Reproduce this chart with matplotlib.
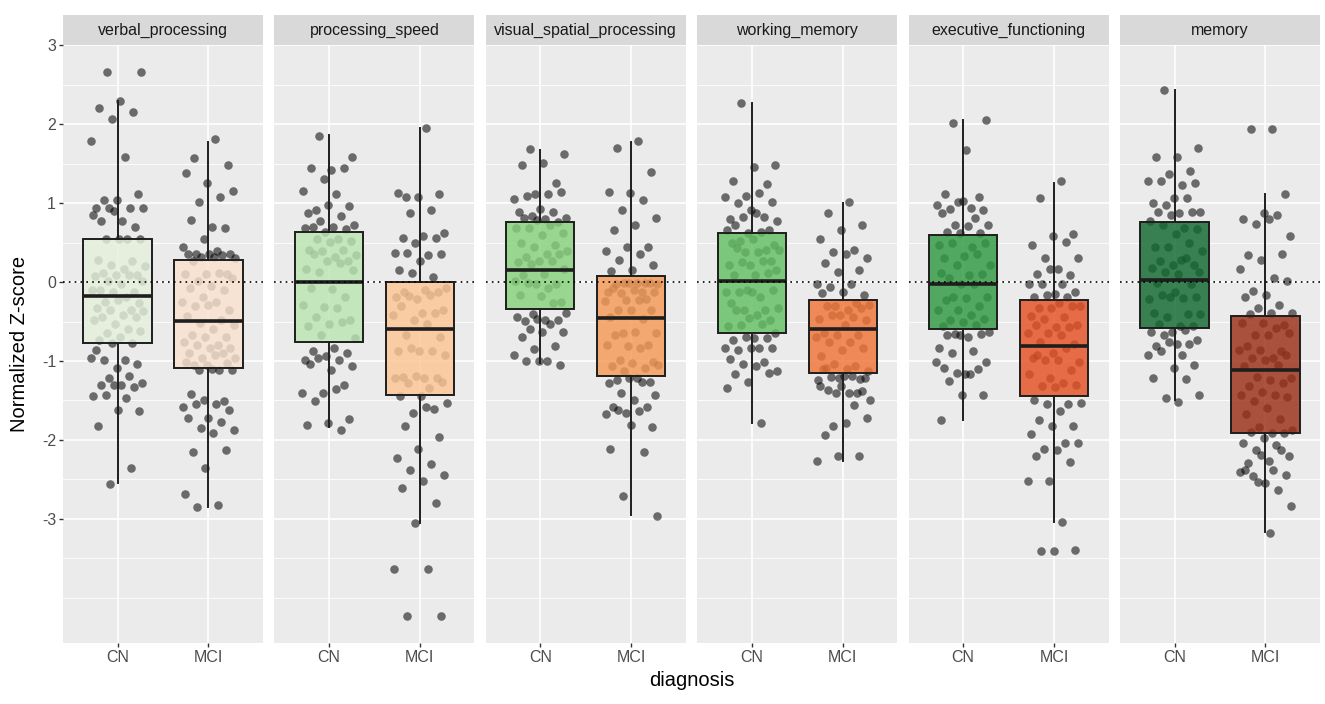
import matplotlib
matplotlib.use('Agg')

import numpy as np
import matplotlib.pyplot as plt
from matplotlib.colors import to_rgba
from matplotlib.patches import Rectangle

plt.rcParams['font.family'] = ['Liberation Sans', 'DejaVu Sans']
plt.rcParams['axes.unicode_minus'] = False

domains = ['verbal_processing', 'processing_speed', 'visual_spatial_processing',
           'working_memory', 'executive_functioning', 'memory']
groups = ['CN', 'MCI']
y_breaks = [-3, -2, -1, 0, 1, 2, 3]

vp_cn = [2.66, 2.66, 2.29, 2.20, 2.16, 2.07, 1.79, 1.58, 1.04, 1.11, 1.04, 0.94, 0.94, 0.94, 0.94,
         0.78, 0.78, 0.70, 0.90, 0.85, 0.55, 0.55, 0.55, 0.55,
         0.28, 0.27, 0.21, 0.20, 0.17, 0.11, 0.09, 0.09, 0.08, 0.09, 0.01, 0.01, -0.03, -0.10, -0.13,
         -0.13, -0.10, -0.19, -0.25, -0.26, -0.23, -0.33, -0.35, -0.36, -0.37, -0.42, -0.44, -0.44,
         -0.53, -0.48, -0.59, -0.64, -0.62, -0.69, -0.73, -0.77, -0.77,
         -0.96, -0.99, -0.99, -1.04, -1.09, -0.86, -1.19, -1.22, -1.28, -1.30, -1.30, -1.33, -1.30,
         -1.44, -1.47, -1.43, -1.63, -1.62, -1.83, -2.36, -2.56]
vp_mci = [1.81, 1.57, 1.48, 1.26, 1.38, 1.08, 1.01, 1.15, 0.70, 0.79, 0.68, 0.54, 0.44, 0.40, 0.36,
          0.36, 0.36, 0.36, 0.34, 0.32, 0.31, 0.32, 0.27,
          0.10, 0.10, 0.10, 0.11, 0.01, 0.05, -0.05, -0.07, -0.10, -0.19, -0.25, -0.25, -0.30, -0.36,
          -0.29, -0.43, -0.48, -0.52, -0.54, -0.59, -0.67, -0.69, -0.70, -0.76, -0.80, -0.80, -0.83,
          -0.84, -0.90, -0.90, -0.96, -0.96, -0.93, -1.05, -1.03, -1.05, -1.01,
          -1.11, -1.11, -1.11, -1.10, -1.42, -1.51, -1.50, -1.58, -1.54, -1.54, -1.62, -1.72, -1.72,
          -1.77, -1.85, -1.87, -1.91, -2.15, -2.13, -2.36, -2.68, -2.82, -2.85]
ps_cn = [1.85, 1.58, 1.42, 1.44, 1.44, 1.31, 1.16, 1.11, 0.91, 0.96, 0.98, 0.87, 0.84, 0.78, 0.72,
         0.70, 0.70, 0.67, 0.64, 0.68,
         0.55, 0.54, 0.52, 0.51, 0.41, 0.41, 0.39, 0.34, 0.32, 0.35, 0.27, 0.27, 0.17, 0.24, 0.13,
         0.15, -0.09, -0.07, -0.19, -0.32, -0.29, -0.33, -0.44, -0.48, -0.53, -0.56, -0.50, -0.67, -0.71,
         -0.83, -0.88, -0.90, -0.94, -0.99, -0.99, -0.96, -1.07, -1.12, -1.04, -1.31, -1.40, -1.40,
         -1.36, -1.51, -1.73, -1.78, -1.81, -1.88]
ps_mci = [1.95, 1.08, 1.11, 1.08, 1.13, 0.91, 0.88, 0.62, 0.59, 0.56, 0.56, 0.50, 0.37, 0.34, 0.37,
          0.35, 0.27, 0.15, 0.06, 0.11,
          -0.07, -0.10, -0.12, -0.12, -0.22, -0.19, -0.17, -0.18, -0.36, -0.39, -0.30, -0.39, -0.48,
          -0.42, -0.53, -0.67, -0.69, -0.88, -0.88, -0.87, -0.84, -0.93, -1.21, -1.20, -1.21, -1.19,
          -1.22, -1.34, -1.28, -1.27,
          -1.45, -1.45, -1.61, -1.66, -1.53, -1.58, -1.83, -1.97, -2.11, -2.23, -2.30, -2.38, -2.44,
          -2.52, -2.61, -2.80, -3.05, -3.64, -3.64, -4.23, -4.23]
vs_cn = [1.69, 1.62, 1.51, 1.48, 1.25, 1.11, 1.05, 1.12, 1.09, 1.14, 0.92, 0.89, 0.89, 0.84, 0.81,
         0.80, 0.81, 0.76, 0.79,
         0.68, 0.72, 0.68, 0.62, 0.60, 0.50, 0.47, 0.45, 0.39, 0.35, 0.32, 0.35, 0.27, 0.26, 0.27,
         0.23, 0.17, 0.10, 0.09, -0.03, -0.02, 0.01, -0.07, -0.01, -0.25, -0.18, -0.17, -0.26,
         -0.40, -0.39, -0.48, -0.49, -0.48, -0.47, -0.44, -0.53, -0.59, -0.63, -0.63, -0.70, -0.81,
         -0.85, -0.93, -1.00, -1.00, -1.05, -1.00]
vs_mci = [1.79, 1.70, 1.40, 1.13, 1.14, 1.04, 0.91, 0.81, 0.72, 0.66, 0.44, 0.45, 0.39, 0.35, 0.28,
          0.21, 0.15, 0.14,
          -0.01, -0.01, -0.02, -0.01, -0.02, -0.01, -0.01, -0.13, -0.12, -0.14, -0.13, -0.10, -0.07,
          -0.22, -0.23, -0.24, -0.23, -0.36, -0.36, -0.35, -0.44, -0.47, -0.64, -0.64, -0.63, -0.67,
          -0.80, -0.81, -0.80, -0.84, -0.99, -1.01, -1.03, -1.07, -1.09, -1.13, -1.05,
          -1.21, -1.24, -1.27, -1.22, -1.28, -1.27, -1.41, -1.43, -1.49, -1.58, -1.58, -1.66, -1.67,
          -1.63, -1.62, -1.84, -1.81, -2.11, -2.15, -2.71, -2.97]
wm_cn = [2.27, 1.48, 1.46, 1.28, 1.24, 1.09, 1.08, 1.13, 1.00, 1.02, 0.91, 0.80, 0.83, 0.83, 0.78,
         0.87, 0.72, 0.66, 0.62, 0.66, 0.64,
         0.52, 0.47, 0.55, 0.50, 0.41, 0.38, 0.41, 0.38, 0.43, 0.27, 0.22, 0.21, 0.27, 0.26, 0.15,
         0.09, 0.09, 0.11, -0.10, -0.13, -0.19, -0.13, -0.10, -0.13, -0.26, -0.36, -0.35, -0.33,
         -0.42, -0.36, -0.48, -0.46, -0.56, -0.53, -0.54, -0.64,
         -0.71, -0.73, -0.71, -0.69, -0.83, -0.84, -0.86, -0.84, -0.84, -0.97, -1.01, -1.04, -1.13,
         -1.07, -1.17, -1.15, -1.27, -1.34, -1.79]
wm_mci = [1.02, 0.88, 0.72, 0.66, 0.54, 0.41, 0.38, 0.30, 0.36, 0.24, 0.15, 0.13, -0.02, -0.03,
          -0.06, -0.17, -0.12, -0.14,
          -0.27, -0.30, -0.29, -0.36, -0.30, -0.33, -0.42, -0.47, -0.44, -0.42, -0.48, -0.54, -0.64,
          -0.67, -0.67, -0.69, -0.76, -0.76, -0.83, -0.86, -0.94, -1.07, -1.04, -1.13, -1.10, -1.09,
          -1.23, -1.22, -1.24, -1.19, -1.20, -1.21, -1.19, -1.10, -1.40, -1.40, -1.50, -1.41, -1.37,
          -1.38, -1.32, -1.32, -1.56, -1.83, -1.72, -1.79, -1.94, -2.21, -2.21, -2.27]
ef_cn = [2.02, 2.05, 1.68, 1.12, 1.08, 1.01, 0.98, 0.94, 0.92, 0.91, 1.03, 0.88, 0.81, 0.72, 0.72,
         0.71, 0.64, 0.62, 0.62,
         0.47, 0.44, 0.50, 0.50, 0.33, 0.31, 0.35, 0.21, 0.21, 0.09, 0.05, 0.10, -0.02, 0.11, -0.02,
         -0.19, -0.19, -0.20, -0.23, -0.30, -0.36, -0.35, -0.42, -0.48, -0.47, -0.50, -0.56, -0.54,
         -0.66, -0.63, -0.69, -0.67, -0.66, -0.67, -0.84, -0.87, -0.90, -1.01, -1.16, -1.09, -1.10,
         -1.15, -1.01, -1.16, -1.25, -1.43, -1.43, -1.75]
ef_mci = [1.28, 1.07, 0.61, 0.58, 0.47, 0.51, 0.31, 0.31, 0.17, 0.10, 0.09, 0.17, -0.03, -0.03,
          -0.02, -0.13, -0.15, -0.19, -0.19, -0.16,
          -0.30, -0.27, -0.33, -0.30, -0.33, -0.43, -0.44, -0.47, -0.54, -0.57, -0.54, -0.57, -0.64,
          -0.64, -0.67, -0.76, -0.79, -0.90, -0.96, -0.84, -0.99, -1.01, -0.99, -0.93, -1.11, -1.21,
          -1.16, -1.28, -1.32, -1.30, -1.33,
          -1.50, -1.54, -1.54, -1.53, -1.64, -1.75, -1.83, -1.83, -1.93, -2.04, -2.11, -2.04, -2.13,
          -2.21, -2.28, -2.52, -2.52, -3.04, -3.41, -3.39, -3.41]
mem_cn = [2.44, 1.70, 1.59, 1.59, 1.41, 1.37, 1.28, 1.23, 1.28, 1.25, 1.07, 1.00, 1.07, 0.98, 0.89,
          0.88, 0.89, 0.89, 0.85, 0.78,
          0.68, 0.72, 0.67, 0.61, 0.45, 0.50, 0.45, 0.39, 0.28, 0.27, 0.22, 0.21, 0.18, 0.30, 0.13,
          0.13, 0.10, -0.01, -0.02, -0.19, -0.22, -0.20, -0.16, -0.19, -0.13, -0.39, -0.40, -0.44,
          -0.41, -0.56, -0.53, -0.56,
          -0.63, -0.63, -0.61, -0.67, -0.73, -0.79, -0.81, -0.79, -0.76, -0.93, -0.93, -0.88, -1.05,
          -1.09, -1.22, -1.23, -1.47, -1.43, -1.52]
mem_mci = [1.94, 1.94, 1.11, 0.87, 0.80, 0.85, 0.73, 0.59, 0.80, 0.34, 0.35, 0.28, 0.17, 0.05,
           -0.11, 0.01, -0.16, -0.19, -0.29, -0.33, -0.39, -0.39, -0.40,
           -0.54, -0.52, -0.52, -0.58, -0.67, -0.64, -0.67, -0.81, -0.87, -0.86, -0.86, -0.96, -0.96,
           -0.93, -0.99, -1.06, -1.05, -1.20, -1.21, -1.24, -1.32, -1.28, -1.39, -1.43, -1.43, -1.51,
           -1.46, -1.59, -1.67, -1.73, -1.84, -1.87, -1.91, -1.90, -1.91,
           -1.98, -2.04, -2.07, -2.13, -2.21, -2.27, -2.29, -2.13, -2.19, -2.41, -2.38, -2.46, -2.44,
           -2.55, -2.38, -2.64, -2.54, -2.84, -3.18]

# box summaries: lower whisker, Q1, median, Q3, upper whisker
vp_box = [[-2.55, -0.77, -0.18, 0.54, 2.29], [-2.85, -1.09, -0.49, 0.28, 1.78]]
ps_box = [[-1.84, -0.76, 0.00, 0.63, 1.86], [-3.05, -1.43, -0.59, 0.00, 1.95]]
vs_box = [[-1.03, -0.34, 0.15, 0.76, 1.68], [-2.95, -1.19, -0.46, 0.08, 1.78]]
wm_box = [[-1.79, -0.64, 0.01, 0.62, 2.27], [-2.27, -1.15, -0.60, -0.23, 1.00]]
ef_box = [[-1.75, -0.60, -0.03, 0.60, 2.05], [-3.04, -1.44, -0.81, -0.23, 1.25]]
mem_box = [[-1.49, -0.58, 0.03, 0.76, 2.43], [-3.17, -1.91, -1.11, -0.43, 1.11]]

points = [(vp_cn, vp_mci), (ps_cn, ps_mci), (vs_cn, vs_mci),
          (wm_cn, wm_mci), (ef_cn, ef_mci), (mem_cn, mem_mci)]
boxes = [vp_box, ps_box, vs_box, wm_box, ef_box, mem_box]

cn_fills = ['#E5F1DB', '#BCE5B3', '#87D27B', '#62BF62', '#309A42', '#10682F']
mci_fills = ['#F9E2CE', '#FEC694', '#F49A55', '#F17436', '#E54F23', '#9A2F16']

W, H = 1325, 704
fig = plt.figure(figsize=(W / 100, H / 100), dpi=100)
fig.patch.set_facecolor('white')

all_y = np.concatenate([np.asarray(v) for pair in points for v in pair])
span = all_y.max() - all_y.min()
ylim = (all_y.min() - 0.05 * span, all_y.max() + 0.05 * span)

panel_left, panel_w, panel_step = 63, 200, 211.4
panel_top, panel_bot = 45, 643
strip_h = 30

for i, dom in enumerate(domains):
    ax = fig.add_axes([(panel_left + i * panel_step) / W, (H - panel_bot) / H,
                       panel_w / W, (panel_bot - panel_top) / H])
    ax.set_facecolor('#EBEBEB')
    for s in ax.spines.values():
        s.set_visible(False)

    # jittered points (deterministic golden-ratio offsets)
    for g, vals in enumerate(points[i]):
        n = len(vals)
        offs = ((np.arange(n) * 0.6180339887 + 0.31 * (g + 1)) % 1.0 - 0.5) * 0.6
        ax.scatter(g + 1 + offs, vals, s=38, color='black', alpha=0.55,
                   linewidths=0, zorder=2)

    stats = []
    for g in range(2):
        lo, q1, med, q3, hi = boxes[i][g]
        stats.append(dict(whislo=lo, q1=q1, med=med, q3=q3, whishi=hi, fliers=[]))
    bp = ax.bxp(stats, positions=[1, 2], widths=0.75, patch_artist=True,
                showfliers=False, showcaps=False, manage_ticks=False,
                boxprops=dict(edgecolor='#1E1E1E', linewidth=1.4),
                medianprops=dict(color='#1E1E1E', linewidth=2.6),
                whiskerprops=dict(color='#1E1E1E', linewidth=1.4),
                zorder=3)
    for patch, col in zip(bp['boxes'], [cn_fills[i], mci_fills[i]]):
        patch.set_facecolor(to_rgba(col, 0.82))
        patch.set_edgecolor('#1E1E1E')

    ax.axhline(0, color='black', linestyle=(0, (1, 2.5)), linewidth=1.2, zorder=4)

    ax.set_xlim(0.4, 2.6)
    ax.set_ylim(*ylim)
    ax.set_yticks(y_breaks)
    ax.set_yticks(np.arange(-4, 3.01, 0.5), minor=True)
    ax.set_xticks([1, 2])
    ax.set_xticklabels(groups)
    ax.grid(which='major', color='white', linewidth=1.2, zorder=0)
    ax.grid(which='minor', axis='y', color='white', linewidth=0.6, zorder=0)
    ax.set_axisbelow(True)
    ax.tick_params(axis='x', length=3, width=1, color='#333333', labelsize=11.5,
                   labelcolor='#4D4D4D', pad=2)
    ax.tick_params(axis='y', which='minor', length=0)
    if i == 0:
        ax.tick_params(axis='y', length=3, width=1, color='#333333', labelsize=11.5,
                       labelcolor='#4D4D4D', pad=2)
    else:
        ax.tick_params(axis='y', length=0, labelleft=False)

    # facet strip
    sh = strip_h / (panel_bot - panel_top)
    ax.add_patch(Rectangle((0, 1), 1, sh, transform=ax.transAxes, facecolor='#D9D9D9',
                           edgecolor='none', clip_on=False))
    ax.text(0.5, 1 + sh / 2, dom, transform=ax.transAxes, ha='center', va='center',
            fontsize=11.5, color='#1A1A1A')

fig.text((panel_left + 5 * panel_step + panel_w + panel_left) / 2 / W, 1 - 680 / H,
         'diagnosis', ha='center', va='center', fontsize=14.5, color='black')
fig.text(20 / W, 1 - (panel_top + panel_bot) / 2 / H, 'Normalized Z-score',
         rotation=90, ha='center', va='center', fontsize=14.5, color='black')

fig.savefig('out.png', dpi=100)
plt.close(fig)
